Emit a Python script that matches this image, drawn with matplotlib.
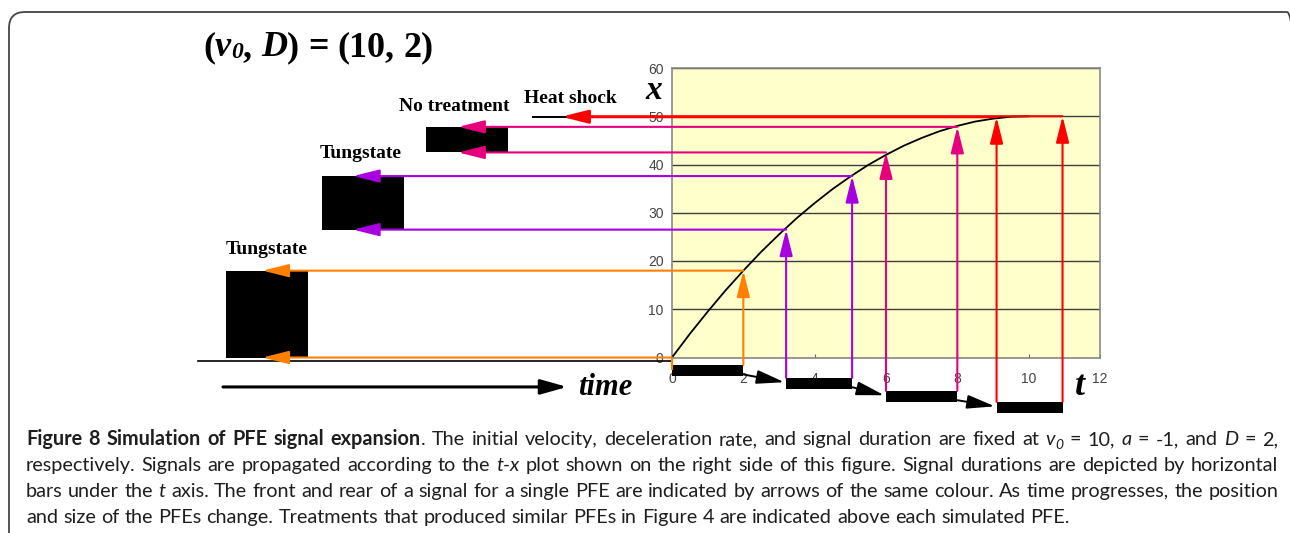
import matplotlib
matplotlib.use("Agg")
import matplotlib.pyplot as plt
from matplotlib.patches import FancyBboxPatch
from matplotlib.transforms import IdentityTransform
from matplotlib.font_manager import FontProperties

W, H = 1290, 533

# t-x curve
t_curve = [0, 0.5, 1, 1.5, 2, 2.5, 3, 3.5, 4, 4.5, 5, 5.5, 6, 6.5, 7, 7.5, 8, 8.5, 9, 9.5, 10]
x_curve = [0, 4.9, 9.5, 13.9, 18, 21.9, 25.5, 28.9, 32, 34.9, 37.5, 39.9, 42, 43.9,
           45.5, 46.9, 48, 48.9, 49.5, 49.9, 50]

# signals (front / rear) for each PFE
sig_start = [0.0, 3.2, 6.0, 9.1]
sig_end = [2.0, 5.05, 8.0, 10.95]
x_front = [0.0, 26.5, 42.5, 49.8]
x_rear = [18.0, 37.6, 47.8, 50.0]
sig_colors = ["#FF8000", "#A800E0", "#E6007E", "#FF0000"]

# duration bars under the t axis
bar_top = [-1.55, -4.2, -6.9, -9.2]
BAR_H = 2.3

# simulated PFE blocks on the left
pfe_left = [-12.5, -9.81, -6.9, -3.92]
PFE_W = 2.3
arrow_tip = [-11.48, -8.94, -5.99, -3.05]
pfe_labels = ["Tungstate", "Tungstate", "No treatment", "Heat shock"]
label_pos = [(-12.5, 21.4), (-9.87, 41.3), (-7.65, 51.1), (-4.15, 52.8)]

x_ticks = [0, 2, 4, 6, 8, 10, 12]
y_ticks = [0, 10, 20, 30, 40, 50, 60]

caption = [
    "b:Figure b:8 b:Simulation b:of b:PFE b:signal b:expansion|. The initial velocity, deceleration rate, "
    "and signal duration are fixed at i:v|s:0 = 10, i:a = -1, and i:D = 2,",
    "respectively. Signals are propagated according to the i:t-x plot shown on the right side of this "
    "figure. Signal durations are depicted by horizontal",
    "bars under the i:t axis. The front and rear of a signal for a single PFE are indicated by arrows "
    "of the same colour. As time progresses, the position",
    "and size of the PFEs change. Treatments that produced similar PFEs in Figure 4 are indicated "
    "above each simulated PFE.",
]

SERIF = "Liberation Serif"
CAP_FONT = "Lato"

fig = plt.figure(figsize=(W / 100, H / 100), dpi=100)
fig.patch.set_facecolor("white")
renderer = fig.canvas.get_renderer()

ax = fig.add_axes([672 / W, (H - 357.5) / H, 428 / W, 289.5 / H])
ax.set_xlim(0, 12)
ax.set_ylim(0, 60)
ax.set_facecolor("#FFFFCC")
for s in ax.spines.values():
    s.set_color("#8a8a8a")
    s.set_linewidth(1.2)
ax.set_xticks(x_ticks)
ax.set_yticks(y_ticks)
ax.yaxis.grid(True, color="#3c3c3c", lw=1.0)
ax.set_axisbelow(True)
ax.tick_params(axis="x", direction="in", length=3, color="#666666", pad=10.5,
               labelsize=10, labelcolor="#444444")
ax.tick_params(axis="y", length=0, pad=6, labelsize=10, labelcolor="#444444")
for lab in ax.get_xticklabels() + ax.get_yticklabels():
    lab.set_fontfamily("Liberation Sans")

ax.plot(t_curve, x_curve, color="black", lw=1.3, zorder=3)


def arrow(x0, y0, x1, y1, color, lw=1.5, hl=1.6, hw=0.4):
    ax.annotate("", xy=(x1, y1), xytext=(x0, y0), annotation_clip=False, zorder=5,
                arrowprops=dict(arrowstyle=f"-|>,head_length={hl},head_width={hw}",
                                color=color, lw=lw, shrinkA=0, shrinkB=0))


# duration bars + connecting arrows
bar_y = [b - BAR_H / 2 for b in bar_top]
ax.barh(bar_y, [e - s for s, e in zip(sig_start, sig_end)], left=sig_start,
        height=BAR_H, color="black", clip_on=False, zorder=4)
for i in range(len(sig_start) - 1):
    arrow(sig_end[i], bar_top[i] - BAR_H * 0.85, sig_start[i + 1] - 0.05,
          bar_top[i + 1] - BAR_H * 0.4, "black", lw=1.4, hl=1.7, hw=0.42)

# PFE blocks
blk_h = [max(r - f, 0.4) for f, r in zip(x_front, x_rear)]
blk_y = [(f + r) / 2 for f, r in zip(x_front, x_rear)]
ax.barh(blk_y, [PFE_W] * len(pfe_left), left=pfe_left, height=blk_h,
        color="black", clip_on=False, zorder=3)

# signal arrows
for i, c in enumerate(sig_colors):
    if x_front[i] > 0:
        arrow(sig_start[i], bar_top[i], sig_start[i], x_front[i], c)
    else:
        ax.plot([sig_start[i], sig_start[i]], [bar_top[i] - 0.8, x_front[i]], color=c,
                lw=1.5, clip_on=False, zorder=5)
    arrow(sig_end[i], bar_top[i], sig_end[i], x_rear[i], c)
    arrow(sig_start[i], x_front[i], arrow_tip[i], x_front[i], c)
    arrow(sig_end[i], x_rear[i], arrow_tip[i], x_rear[i], c)

# baseline and time arrow
ax.plot([-13.3, 0], [-0.7, -0.7], color="black", lw=1.2, clip_on=False, zorder=2)
arrow(-12.59, -6.1, -2.94, -6.1, "black", lw=2.2, hl=1.6, hw=0.45)
ax.text(-2.64, -7.8, "time", family=SERIF, weight="bold", style="italic", fontsize=22,
        ha="left", va="baseline")
ax.text(-0.5, 53.6, "x", family=SERIF, weight="bold", style="italic", fontsize=24,
        ha="center", va="baseline")
ax.text(11.44, -7.8, "t", family=SERIF, weight="bold", style="italic", fontsize=26,
        ha="center", va="baseline")

for lab, (lx, ly) in zip(pfe_labels, label_pos):
    ax.text(lx, ly, lab, family=SERIF, weight="bold", fontsize=14, ha="left", va="baseline")


# ---- run-based text layout (title + caption) ----
def parse(line):
    toks = []
    for w in line.split(" "):
        segs = []
        for part in w.split("|"):
            if part[:2] in ("b:", "i:", "s:"):
                segs.append((part[0], part[2:]))
            else:
                segs.append(("n", part))
        toks.append(segs)
    return toks


def width(s, fp):
    return renderer.get_text_width_height_descent(s, fp, ismath=False)[0]


def tok_width(tok, fps):
    return sum(width(s, fps[st]) for st, s in tok)


def draw_line(toks, x, y_top, fps, gap, color, sub_drop):
    for tok in toks:
        for st, s in tok:
            dy = -sub_drop if st == "s" else 0
            fig.text(x, H - y_top + dy, s, fontproperties=fps[st], color=color,
                     transform=IdentityTransform(), ha="left", va="baseline")
            x += width(s, fps[st])
        x += gap


def cap_fonts(size):
    return {
        "n": FontProperties(family=CAP_FONT, size=size),
        "b": FontProperties(family=CAP_FONT, weight="bold", size=size),
        "i": FontProperties(family=CAP_FONT, style="italic", size=size),
        "s": FontProperties(family=CAP_FONT, style="italic", size=size * 0.7),
    }


def space_w(fp):
    return width("n n", fp) - width("nn", fp)


# title
tfps = {
    "n": FontProperties(family=SERIF, weight="bold", size=26),
    "b": FontProperties(family=SERIF, weight="bold", size=26),
    "i": FontProperties(family=SERIF, weight="bold", style="italic", size=26),
    "s": FontProperties(family=SERIF, weight="bold", style="italic", size=17),
}
title_toks = parse("(|i:v|s:0|, i:D|) = (10, 2)")
draw_line(title_toks, 203, 56, tfps, space_w(tfps["n"]), "black", 2)

# caption: size chosen so the last (unjustified) line matches its width
toks_all = [parse(l) for l in caption]
probe = cap_fonts(12)
nat = sum(tok_width(t, probe) for t in toks_all[3]) + space_w(probe["n"]) * (len(toks_all[3]) - 1)
cap_size = 12 * 1039 / nat
fps = cap_fonts(cap_size)
baselines = [445, 471, 497, 523]
for k, toks in enumerate(toks_all):
    tw = sum(tok_width(t, fps) for t in toks)
    if k < 3:
        gap = (1278 - 26 - tw) / (len(toks) - 1)
    else:
        gap = space_w(fps["n"])
    draw_line(toks, 26, baselines[k], fps, gap, "#1e1e1e", cap_size * 0.3)

# outer rounded frame
frame = FancyBboxPatch((9, -40), 1303 - 9, 521 + 40, boxstyle="round,pad=0,rounding_size=16",
                       transform=IdentityTransform(), fill=False, ec="#444444", lw=1.3)
fig.add_artist(frame)

fig.savefig("out.png", dpi=100)
